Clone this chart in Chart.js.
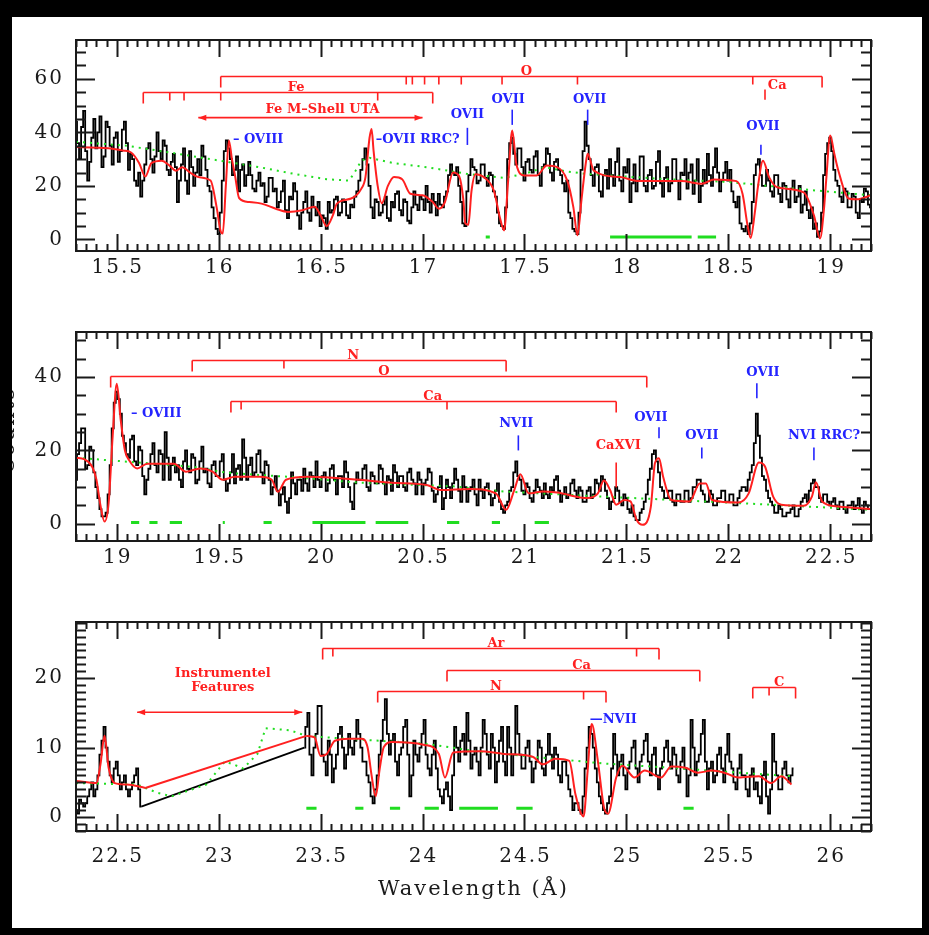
<!DOCTYPE html>
<html>
<head>
<meta charset="utf-8">
<script src="https://cdn.jsdelivr.net/npm/chart.js@4.4.0/dist/chart.umd.min.js"></script>
<style>
html, body { margin:0; padding:0; background:#000; }
#page { position:absolute; left:12px; top:17px; width:910px; height:911px; background:#fff; overflow:hidden; }
canvas { position:absolute; left:0; }
</style>
</head>
<body>
<div id="page">
<canvas id="panel1" width="910" height="290" style="top:0px"></canvas>
<canvas id="panel2" width="910" height="290" style="top:290px"></canvas>
<canvas id="panel3" width="910" height="331" style="top:580px"></canvas>
</div>
<script>
// ---- Data: wavelength bins (0.01 A) and counts ----
const binWidth = 0.01;

// panel 1 : 15.30 - 19.20
const start1 = 15.30;
const counts1 = [
 44,36,30,42,48,33,22,29,38,45,  34,40,46,27,31,44,42,35,28,38,
 40,29,33,41,44,36,26,32,30,22,  20,25,16,22,28,34,36,30,25,31,
 40,33,30,37,35,26,24,29,32,27,  14,22,28,34,22,17,33,27,20,25,
 30,24,35,31,26,20,18,12,8,4,    2,10,22,33,37,34,30,24,26,31,
 18,26,28,20,24,29,24,19,18,22,  25,20,21,14,16,23,23,18,19,12,
 14,18,22,11,8,16,15,21,18,9,    4,10,14,18,10,7,16,12,9,14,
 5,9,8,4,14,10,11,15,16,9,       10,15,14,9,8,13,12,16,18,22,
 26,30,34,28,20,12,8,15,14,9,    10,13,16,8,7,14,12,17,18,11,
 9,15,14,7,6,12,18,13,11,16,     15,11,20,14,10,17,14,9,17,13,
 12,16,18,24,28,25,24,27,20,14,  6,5,18,24,30,27,26,21,22,28,
 28,23,20,25,24,18,16,10,6,5,    4,12,30,36,38,32,28,34,34,27,
 22,29,30,26,25,31,33,24,20,27,  28,34,32,25,22,29,30,26,24,21,
 18,22,10,8,4,3,2,10,26,33,      44,35,30,24,20,27,28,18,16,24,
 26,19,30,24,20,29,34,22,18,27,  25,30,14,21,28,18,22,31,31,20,
 18,24,26,19,20,29,33,21,16,23,  27,18,21,30,30,22,15,25,24,30,
 19,25,28,17,22,30,14,20,26,21,  32,24,20,27,34,25,18,22,25,29,
 22,26,18,14,12,16,6,4,3,5,      2,6,14,24,28,30,24,20,20,26,
 22,18,16,24,24,17,14,21,20,15,  12,19,22,14,16,20,10,13,18,11,
 8,12,4,6,1,3,10,24,32,36,       38,33,26,22,20,16,14,19,18,12,
 12,17,16,10,8,15,14,19,18,13,   12
];
const model1X = [15.30,15.40,15.47,15.53,15.57,15.61,15.64,15.67,15.72,15.76,15.79,15.82,15.86,15.90,15.96,15.99,16.01,16.02,16.035,16.05,16.065,16.08,16.10,16.15,16.21,16.28,16.34,16.41,16.47,16.50,16.53,16.56,16.58,16.65,16.70,16.72,16.74,16.75,16.76,16.78,16.80,16.83,16.86,16.90,16.94,17.00,17.05,17.08,17.11,17.15,17.18,17.20,17.21,17.225,17.24,17.26,17.30,17.35,17.38,17.40,17.42,17.44,17.46,17.50,17.56,17.61,17.66,17.71,17.74,17.76,17.78,17.80,17.81,17.84,17.97,18.06,18.27,18.37,18.43,18.54,18.57,18.595,18.61,18.63,18.645,18.67,18.70,18.74,18.87,18.92,18.95,18.97,18.98,19.00,19.02,19.04,19.09,19.13,19.20];
const model1Y = [34.5,34.3,34,33.2,32.5,28.5,23.5,28.5,29.4,27.5,25.7,27,25,23.3,22,12,3,2.2,20,37,30,24,15.5,14,13.4,11.5,10.3,10.9,12.2,9,5,9,13.4,15.3,19,23.3,38,41.3,33,20,13.5,20,23.3,22.5,17.1,16.5,14,11.5,14,25,23.5,15,6,5.5,18,24.4,23.3,18.2,8,3.4,22,40.7,28.2,23.9,23.9,27.6,27,22,12,1.6,15,28,32,25.7,23.3,21.8,21.8,20.8,22.4,21.8,17,5,0.6,10,19.5,29.4,23.3,19.5,17.6,9,0.4,12,22,38.8,32,25.7,15.3,15,16.5];
const cont1X = [15.30,15.55,15.80,16.00,16.20,16.37,16.53,16.64,16.67,16.70,16.74,16.86,17.02,17.22,17.40,17.50,17.60,17.70,17.80,18.00,18.20,18.50,18.70,18.90,19.20];
const cont1Y = [36.5,35,32,29.5,27,24.5,22.5,22,25.5,29.5,30.5,28.5,27,24.5,23,24.5,27,25.5,24.5,23.5,22.5,21.5,20,18.5,16.5];
const good1 = [[17.31,17.33],[17.92,18.32],[18.35,18.44]];

// panel 2 : 18.80 - 22.70
const start2 = 18.80;
const counts2 = [
 12,19,22,26,26,15,16,21,20,14,  10,7,4,2,2,3,8,16,26,33,
 36,34,30,24,22,19,18,23,24,17,  16,21,20,13,8,12,15,19,22,16,
 14,20,19,12,25,18,12,16,18,14,  16,12,10,17,20,15,14,19,18,11,
 12,17,21,14,15,11,10,16,17,13,  13,17,19,12,9,11,14,19,11,15,
 16,12,23,18,12,16,18,13,14,19,  20,14,11,17,16,12,8,10,13,9,
 5,8,10,6,3,7,14,11,8,12,        12,9,15,11,9,14,13,10,17,12,
 10,13,14,9,11,15,16,12,8,13,    13,10,17,14,10,6,4,11,14,12,
 12,15,16,10,9,14,13,11,11,16,   15,11,8,13,12,9,16,14,10,13,
 13,10,9,14,15,12,11,8,14,12,    8,11,12,15,14,9,6,8,10,13,
 4,7,12,10,7,11,15,12,9,6,       13,10,6,9,10,12,8,5,12,9,
 7,10,11,8,5,7,9,11,6,4,         3,5,6,9,10,14,17,13,12,9,
 8,11,10,7,6,9,12,10,9,7,        11,8,7,10,9,12,13,9,6,8,
 10,7,8,11,12,9,7,10,9,6,        6,9,10,7,8,12,11,9,13,12,
 9,7,4,6,7,10,9,6,5,8,           7,4,3,5,2,1,1,3,4,6,
 8,12,15,19,20,17,14,10,9,7,     7,9,9,6,5,8,8,6,6,9,
 9,6,7,10,10,12,12,9,8,6,        6,9,8,5,5,7,7,9,9,6,
 6,8,8,5,5,7,9,10,10,9,          12,14,16,22,30,24,18,13,12,9,
 7,6,5,3,3,5,4,2,2,3,            3,4,5,2,2,4,6,7,8,6,
 9,11,12,10,10,7,6,8,8,6,        5,6,7,5,4,6,6,4,3,5,
 5,6,4,5,7,4,3,6,5,4,            4
];
const model2X = [18.80,18.84,18.88,18.90,18.92,18.94,18.96,18.98,19.00,19.02,19.04,19.06,19.10,19.15,19.28,19.34,19.41,19.47,19.52,19.58,19.70,19.76,19.79,19.83,19.94,20.19,20.35,20.52,20.59,20.73,20.86,20.91,20.95,20.98,21.02,21.09,21.16,21.31,21.36,21.39,21.42,21.45,21.49,21.52,21.55,21.58,21.62,21.64,21.66,21.68,21.72,21.81,21.86,21.89,21.92,22.05,22.10,22.15,22.18,22.22,22.26,22.37,22.41,22.43,22.46,22.54,22.70];
const model2Y = [18,17.6,15.5,12.1,5,0.6,5.6,24,38.2,28,20,17.4,15.1,16.4,16.4,14.2,15.1,14.2,12,12.8,12.8,12,8.7,12,12.8,12,11.2,10.6,9.2,9.5,8.3,3.8,9.2,13.5,8.3,8.8,8.5,7,8.3,11.8,9.2,5.2,6.5,6.1,1.1,-0.3,4.7,16.5,17.9,12.9,6.5,6.1,11,11,6.5,5.8,8.3,16.7,15.6,7.4,5.2,4.9,7.4,11.3,6.1,4.7,4];
const cont2X = [18.80,19.06,19.38,19.54,19.87,20.19,20.65,20.90,21.39,21.88,22.21,22.70];
const cont2Y = [18,16.9,15.5,13.9,12.7,11.2,10.2,8.8,7.4,6.1,5.2,3.8];
const good2 = [[19.07,19.11],[19.16,19.20],[19.26,19.32],[19.52,19.53],[19.72,19.76],[19.96,20.22],[20.27,20.43],[20.62,20.68],[20.84,20.88],[21.05,21.12]];

// panel 3 : 22.30 - 26.20 (gap 22.62 - 23.42)
const start3a = 22.30;
const counts3a = [
 1,0.5,2.5,2,1.5,2,3,4,5,3,  4,6,9,11,13,10,8,6,5,7,
 8,6,4,5,6,4,3,4,5,6,        7,4,1.5
];
const start3b = 23.42;
const counts3b = [
 10,13,15,9,6,10,12,16,16,9,  8,6,11,9,5,7,9,12,13,10,
 7,9,12,10,9,11,14,12,10,8,   8,6,5,3,2,4,6,9,11,14,
 17,12,9,11,12,8,6,9,10,13,   14,9,3,6,11,9,8,10,12,14,
 9,7,6,9,11,7,4,3,2,4,        5,3,1,6,13,10,8,11,12,9,
 15,11,7,9,10,8,6,10,14,12,   9,7,12,10,5,8,11,13,8,6,
 13,10,6,9,16,12,9,7,7,10,    11,8,5,7,8,11,10,7,6,9,
 12,9,7,10,9,6,5,8,8,6,       4,3,1,2,2,1,0.5,3,7,10,
 13,12,10,7,5,3,2,1,0.5,2,    3,7,12,9,6,8,9,6,4,7,
 8,10,11,7,5,8,9,11,12,8,     6,9,10,6,4,7,8,10,11,8,
 7,10,9,6,5,8,10,7,3,6,       14,10,6,8,9,12,14,8,4,7,
 8,5,6,9,10,7,5,9,12,8,       7,5,4,7,9,6,6,4,3,6,
 7,4,5,3,2,6,8,3,0.5,4,       12,8,6,4,4,7,8,6,5,6,
 7
];
const model3aX = [22.30,22.40,22.42,22.44,22.46,22.49,22.55,22.64];
const model3aY = [5.2,4.9,7.6,11.7,7.1,4.9,4.7,4.2];
const model3bX = [23.43,23.47,23.50,23.53,23.57,23.64,23.70,23.73,23.75,23.77,23.79,23.81,23.85,24.01,24.08,24.11,24.15,24.28,24.40,24.54,24.59,24.65,24.72,24.75,24.79,24.81,24.83,24.86,24.89,24.91,24.95,24.98,25.04,25.09,25.17,25.22,25.29,25.35,25.42,25.48,25.55,25.65,25.71,25.76,25.81];
const model3bY = [11.7,11.5,8.8,9.1,11,11.3,11.3,10.1,6,3,7,10.1,10.8,10.4,9.1,5.7,9.3,9.5,9.1,8.7,7.6,8.4,8.1,3.3,0.1,6.7,13.4,8.1,1.4,0.5,5.7,7.4,5.7,6.7,5.7,7.3,7.1,6.4,6.7,6.4,5.7,5.9,4.9,5.9,4.7];
const cont3X = [22.30,22.45,22.60,22.64,22.70,22.77,22.85,22.94,23.03,23.08,23.12,23.19,23.23,23.35,23.43,23.52,23.73,24.01,24.26,24.57,24.90,25.22,25.55,25.81];
const cont3Y = [4.9,4.8,4.7,4.2,3.5,3.0,3.8,4.7,8.0,7.5,7.0,9.1,12.8,12.5,11.7,11.5,11.1,10.6,9.5,8.6,7.7,7.1,6.4,5.9];
const good3 = [[23.43,23.48],[23.67,23.71],[23.84,23.89],[24.01,24.08],[24.18,24.37],[24.46,24.54],[25.28,25.33]];

// ---- axis labels ----
const xLabels1 = [15.5,16,16.5,17,17.5,18,18.5,19];
const xLabels2 = [19,19.5,20,20.5,21,21.5,22,22.5];
const xLabels3 = [22.5,23,23.5,24,24.5,25,25.5,26];
const yLabels1 = [0,20,40,60];
const yLabels2 = [0,20,40];
const yLabels3 = [0,10,20];

// ---- line identifications ----
const brackets1 = [
  {label:'O', y:61, at:17.51, ticks:[16.01,16.92,16.95,17.01,17.08,17.19,17.39,17.76,18.62,18.96]},
  {label:'Fe', y:55, at:16.38, ticks:[15.63,15.76,15.83,16.01,16.78,17.05]}
];
const marks1 = [
  {text:'\u2013 OVIII', x:16.07, y:37.2, align:'left', c:'b'},
  {text:'\u2013OVII RRC?', x:16.77, y:37.2, align:'left', c:'b'},
  {text:'OVII', x:17.22, y:46.6, c:'b', tick:[17.22,41.7,35.3]},
  {text:'OVII', x:17.42, y:52.2, c:'b', tick:[17.44,48.5,42.8]},
  {text:'OVII', x:17.82, y:52.2, c:'b', tick:[17.81,48.5,42.8]},
  {text:'OVII', x:18.67, y:42.1, c:'b', tick:[18.66,35.4,31.6]},
  {text:'Ca', x:18.74, y:57.5, c:'r', tick:[18.68,56,52.2]},
  {text:'Fe M\u2013Shell UTA', x:16.51, y:48.5, c:'r'}
];
const arrows1 = [{from:15.9, to:17.0, y:45.5}];

const brackets2 = [
  {label:'N', y:44.6, at:20.16, ticks:[19.37,19.82,20.91]},
  {label:'O', y:40.2, at:20.31, ticks:[18.97,21.60]},
  {label:'Ca', y:33.4, at:20.55, ticks:[19.56,19.61,20.62,21.45]}
];
const marks2 = [
  {text:'\u2013 OVIII', x:19.07, y:30.1, align:'left', c:'b'},
  {text:'NVII', x:20.96, y:27.4, c:'b', tick:[20.97,24.1,20]},
  {text:'CaXVI', x:21.46, y:21.4, c:'r', tick:[21.45,16.7,9.9]},
  {text:'OVII', x:21.62, y:29, c:'b', tick:[21.66,26.3,23.3]},
  {text:'OVII', x:21.87, y:24.1, c:'b', tick:[21.87,20.8,17.8]},
  {text:'OVII', x:22.17, y:41.3, c:'b', tick:[22.14,38.3,34.2]},
  {text:'NVI RRC?', x:22.47, y:24.1, c:'b', tick:[22.42,20.8,17.3]}
];

const brackets3 = [
  {label:'Ar', y:24.4, at:24.36, ticks:[23.51,23.56,25.05,25.16]},
  {label:'Ca', y:21.2, at:24.78, ticks:[24.12,25.36]},
  {label:'N', y:18.2, at:24.36, ticks:[23.78,24.79,24.90]},
  {label:'C', y:18.8, at:25.75, ticks:[25.62,25.70,25.83]}
];
const marks3 = [
  {text:'\u2014NVII', x:24.82, y:14.1, align:'left', c:'b'},
  {text:'Instrumentel', x:23.02, y:20.7, c:'r'},
  {text:'Features', x:23.02, y:18.7, c:'r'}
];
const arrows3 = [{from:22.6, to:23.41, y:15.1}];

// ---- styles ----
const RED = '#ff2020', BLUE = '#2424ff', GREEN = '#20dd20', INK = '#1a1a1a';
const TICK_FONT = '20px "DejaVu Serif"';
const NOTE_FONT = 'bold 13px "DejaVu Serif"';

function binned(start, values) {
  return values.map((v, i) => ({x: start + i * binWidth, y: v}));
}
function pairs(xs, ys) {
  return xs.map((x, i) => ({x: x, y: ys[i]}));
}
function segments(list, level) {
  const out = [];
  list.forEach(s => { out.push({x:s[0], y:level}, {x:s[1], y:level}, {x:s[1], y:null}); });
  return out;
}

const decor = {
  id: 'decor',
  afterDatasetsDraw(chart, args, o) {
    const ctx = chart.ctx, a = chart.chartArea;
    const xs = chart.scales.x, ys = chart.scales.y;
    const X = v => xs.getPixelForValue(v), Y = v => ys.getPixelForValue(v);
    ctx.save();

    // brackets
    ctx.font = NOTE_FONT;
    ctx.lineWidth = 1.6;
    (o.brackets || []).forEach(b => {
      const y = Math.round(Y(b.y)) + 0.5;
      const lo = Math.min(...b.ticks), hi = Math.max(...b.ticks);
      ctx.strokeStyle = RED; ctx.fillStyle = RED;
      ctx.beginPath();
      ctx.moveTo(X(lo), y); ctx.lineTo(X(hi), y);
      b.ticks.forEach(t => {
        const len = (t === lo || t === hi) ? 11 : 8;
        ctx.moveTo(X(t), y); ctx.lineTo(X(t), y + len);
      });
      ctx.stroke();
      ctx.textAlign = 'center'; ctx.textBaseline = 'alphabetic';
      ctx.fillText(b.label, X(b.at), y - 2);
    });

    // labels with small markers
    (o.marks || []).forEach(m => {
      const col = m.c === 'b' ? BLUE : RED;
      ctx.fillStyle = col; ctx.strokeStyle = col;
      ctx.textAlign = m.align || 'center'; ctx.textBaseline = 'middle';
      ctx.fillText(m.text, X(m.x), Y(m.y));
      if (m.tick) {
        ctx.beginPath();
        ctx.moveTo(X(m.tick[0]), Y(m.tick[1]));
        ctx.lineTo(X(m.tick[0]), Y(m.tick[2]));
        ctx.stroke();
      }
    });

    // double arrows
    (o.arrows || []).forEach(r => {
      const y = Y(r.y), x1 = X(r.from), x2 = X(r.to);
      ctx.strokeStyle = RED; ctx.fillStyle = RED;
      ctx.beginPath(); ctx.moveTo(x1, y); ctx.lineTo(x2, y); ctx.stroke();
      ctx.beginPath();
      ctx.moveTo(x1, y); ctx.lineTo(x1 + 8, y - 3); ctx.lineTo(x1 + 8, y + 3); ctx.closePath();
      ctx.moveTo(x2, y); ctx.lineTo(x2 - 8, y - 3); ctx.lineTo(x2 - 8, y + 3); ctx.closePath();
      ctx.fill();
    });

    // frame and inward ticks
    ctx.strokeStyle = INK; ctx.lineWidth = 2;
    ctx.strokeRect(a.left, a.top, a.right - a.left, a.bottom - a.top);
    ctx.beginPath();
    const k0 = Math.ceil(xs.min / o.xMinor - 1e-6);
    for (let k = k0; k * o.xMinor <= xs.max + 1e-9; k++) {
      const v = k * o.xMinor;
      const major = Math.abs(v / 0.5 - Math.round(v / 0.5)) < 1e-6;
      const len = major ? 17 : 7;
      const px = Math.round(X(v)) + 0.5;
      ctx.moveTo(px, a.top); ctx.lineTo(px, a.top + len);
      ctx.moveTo(px, a.bottom); ctx.lineTo(px, a.bottom - len);
    }
    const j0 = Math.ceil(ys.min / o.yMinor - 1e-6);
    for (let j = j0; j * o.yMinor <= ys.max + 1e-9; j++) {
      const v = j * o.yMinor;
      const len = o.yLabels.includes(v) ? 19 : 10;
      const py = Math.round(Y(v)) + 0.5;
      ctx.moveTo(a.left, py); ctx.lineTo(a.left + len, py);
      ctx.moveTo(a.right, py); ctx.lineTo(a.right - len, py);
    }
    ctx.stroke();

    // tick labels
    ctx.fillStyle = INK;
    ctx.font = TICK_FONT;
    ctx.letterSpacing = '2px';
    ctx.textBaseline = 'middle';
    ctx.textAlign = 'center';
    o.xLabels.forEach(v => ctx.fillText(String(v), X(v) + 1, a.bottom + o.xLabelGap));
    ctx.textAlign = 'right';
    o.yLabels.forEach(v => ctx.fillText(String(v), a.left - 12, Y(v)));

    if (o.title) {
      ctx.font = '21px "DejaVu Serif"';
      ctx.textAlign = 'center';
      ctx.fillText(o.title, (a.left + a.right) / 2, a.bottom + 59);
    }
    if (o.yTitle) {
      ctx.save();
      ctx.translate(2, (a.top + a.bottom) / 2 - 6);
      ctx.rotate(-Math.PI / 2);
      ctx.font = '21px "DejaVu Serif"';
      ctx.textAlign = 'center'; ctx.textBaseline = 'alphabetic';
      ctx.fillText(o.yTitle, 0, 0);
      ctx.restore();
    }
    ctx.restore();
  }
};

// consecutive pieces are joined by a straight line (the instrumental gap)
function joined(pieces, color, width, order, extra) {
  const out = [];
  pieces.forEach((p, i) => {
    out.push(Object.assign({data: p, borderColor: color, borderWidth: width, order: order}, extra));
    if (i > 0) {
      const prev = pieces[i - 1];
      out.push({data: [prev[prev.length - 1], p[0]], borderColor: color, borderWidth: width, order: order});
    }
  });
  return out;
}

function spectrum(id, cfg) {
  let datasets = [
    {data: pairs(cfg.contX, cfg.contY), borderColor: GREEN, borderWidth: 2, borderDash: [2, 5], order: 1},
    {data: segments(cfg.good, cfg.goodLevel), borderColor: GREEN, borderWidth: 3, spanGaps: false, order: 4}
  ];
  datasets = datasets.concat(
    joined(cfg.models.map(m => pairs(m[0], m[1])), RED, 2, 0, {cubicInterpolationMode: 'monotone'}),
    joined(cfg.counts.map(c => binned(c.start, c.values)), '#000', 1.8, 2, {stepped: 'middle'})
  );
  return new Chart(document.getElementById(id), {
    type: 'line',
    data: {datasets: datasets},
    options: {
      responsive: false,
      animation: false,
      events: [],
      elements: {point: {radius: 0}, line: {tension: 0}},
      layout: {padding: cfg.padding},
      plugins: {
        legend: {display: false},
        tooltip: {enabled: false},
        decor: cfg.decor
      },
      scales: {
        x: {type: 'linear', min: cfg.xMin, max: cfg.xMax, display: false},
        y: {type: 'linear', min: cfg.yMin, max: cfg.yMax, display: false}
      }
    },
    plugins: [decor]
  });
}

spectrum('panel1', {
  counts: [{start: start1, values: counts1}],
  models: [[model1X, model1Y]], contX: cont1X, contY: cont1Y,
  good: good1, goodLevel: 0.9,
  xMin: 15.3, xMax: 19.2, yMin: -4.3, yMax: 74.5,
  padding: {left: 64, right: 51, top: 23, bottom: 56},
  decor: {xLabels: xLabels1, yLabels: yLabels1, xMinor: 0.05, yMinor: 5, xLabelGap: 17,
          brackets: brackets1, marks: marks1, arrows: arrows1}
});

spectrum('panel2', {
  counts: [{start: start2, values: counts2}],
  models: [[model2X, model2Y]], contX: cont2X, contY: cont2Y,
  good: good2, goodLevel: 0.35,
  xMin: 18.8, xMax: 22.7, yMin: -4.7, yMax: 52.3,
  padding: {left: 64, right: 51, top: 25, bottom: 56},
  decor: {xLabels: xLabels2, yLabels: yLabels2, xMinor: 0.05, yMinor: 5, xLabelGap: 17,
          brackets: brackets2, marks: marks2, yTitle: 'Counts'}
});

spectrum('panel3', {
  counts: [{start: start3a, values: counts3a}, {start: start3b, values: counts3b}],
  models: [[model3aX, model3aY], [model3bX, model3bY]], contX: cont3X, contY: cont3Y,
  good: good3, goodLevel: 1.26,
  xMin: 22.3, xMax: 26.2, yMin: -2.0, yMax: 28.1,
  padding: {left: 64, right: 51, top: 25, bottom: 97},
  decor: {xLabels: xLabels3, yLabels: yLabels3, xMinor: 0.05, yMinor: 1, xLabelGap: 26,
          brackets: brackets3, marks: marks3, arrows: arrows3, title: 'Wavelength (\u00c5)'}
});
</script>
</body>
</html>
